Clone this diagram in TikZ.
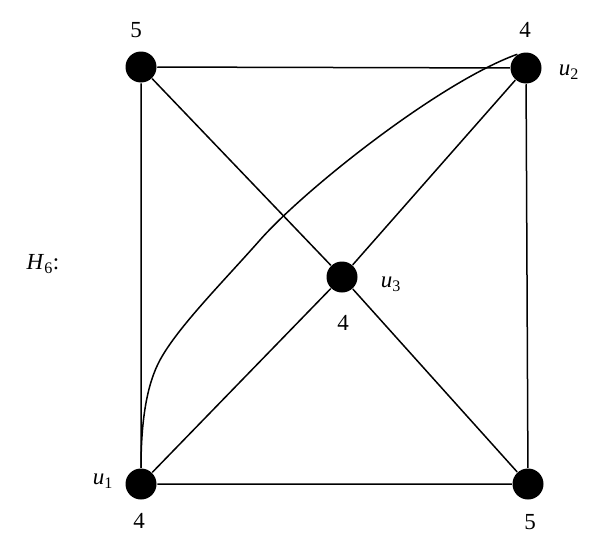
\documentclass[tikz,border=0pt]{standalone}
\usepackage{fontspec}
\setmainfont{Liberation Serif}
\tikzset{gr/.style={x=1pt,y=-1pt,line width=1.5pt,font=\fontsize{23}{27}\selectfont},
  vtx/.style={circle,fill=black,inner sep=0pt,minimum size=31pt}}
\newcommand{\vname}[2]{\textit{#1}\textsubscript{#2}}

\begin{document}
\begin{tikzpicture}[gr]
  \useasboundingbox (0,0) rectangle (600,554);
  \node[vtx] (a) at (141,67){};\node[vtx] (u2) at (526,68){};
  \node[vtx] (u3) at (342,277){};
  \node[vtx] (u1) at (141,484){};\node[vtx] (b) at (528,484){};
  \draw (a)--(u2) (a)--(u1) (u1)--(b) (u2)--(b);
  \draw (a)--(u3)--(b) (u1)--(u3)--(u2);
  % curved edge u1 to u2
  \draw (u1.north) .. controls (141,420) and (147,384) .. (160,360) .. controls (178,327) and (222,283) .. (260,240)
    .. controls (305,189) and (440,82) .. (u2.122);
  \node at (136,30){5};\node at (525,30){4};\node at (569,72){\vname{u}{2}};
  \node at (391,284){\vname{u}{3}};\node at (343,323){4};
  \node at (103,481){\vname{u}{1}};\node at (139,521){4};\node at (530,522){5};
  \node at (43,264){\vname{H}{6}:};
\end{tikzpicture}
\end{document}
